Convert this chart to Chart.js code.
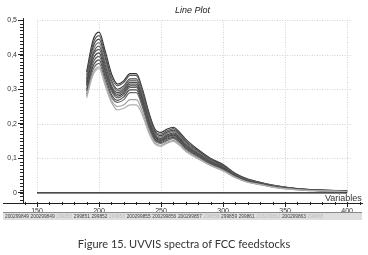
<!DOCTYPE html>
<html>
<head>
<meta charset="utf-8">
<script src="https://cdn.jsdelivr.net/npm/chart.js@4.4.1/dist/chart.umd.min.js"></script>
<style>
  body { margin:0; background:#fff; }
  #wrap { position:relative; width:368px; height:255px; overflow:hidden; font-family:'Liberation Sans', Arial, sans-serif; }
  #plot { position:absolute; left:0; top:0; width:368px; height:222px; }
  #title { position:absolute; left:175px; top:5px; font-size:9px; font-style:italic; color:#222; }
  #vars { position:absolute; left:325px; top:193px; font-size:9px; color:#333; }
  #strip { position:absolute; left:3px; top:212px; width:357px; height:7px; background:#dedede; border-top:1px solid #8a8a8a;
           display:flex; gap:1.6px; font-size:4.8px; line-height:7px; white-space:nowrap; overflow:hidden; padding-left:2px; }
  #strip span { color:#444; }
  #strip span.l { color:#bbb; }
  #caption { position:absolute; left:0; width:368px; top:237px; text-align:center; font-family:Lato, sans-serif; font-size:11px; color:#333; }
</style>
</head>
<body>
<div id="wrap">
  <div id="plot"><canvas id="c"></canvas></div>
  <div id="title">Line Plot</div>
  <div id="vars">Variables</div>
  <div id="strip"></div>
  <div id="caption">Figure 15. UVVIS spectra of FCC feedstocks</div>
</div>
<script>
// wavelengths (nm)
const wl = [190,195,200,205,210,215,220,225,230,235,240,245,250,255,260,265,270,280,290,300,310,320,330,340,350,360,380,400];

// absorbance spectra, one array per sample
const s1  = [0.35,0.44,0.465,0.41,0.345,0.315,0.325,0.345,0.345,0.30,0.235,0.185,0.175,0.185,0.19,0.175,0.155,0.125,0.10,0.082,0.056,0.04,0.031,0.023,0.017,0.013,0.008,0.006];
const s2  = [0.34,0.43,0.455,0.40,0.335,0.31,0.32,0.34,0.34,0.295,0.23,0.18,0.17,0.18,0.186,0.17,0.15,0.122,0.098,0.08,0.055,0.039,0.030,0.022,0.016,0.012,0.008,0.006];
const w1  = [0.335,0.425,0.45,0.395,0.33,0.305,0.315,0.335,0.335,0.29,0.227,0.178,0.168,0.178,0.184,0.168,0.148,0.121,0.097,0.079,0.054,0.038,0.029,0.022,0.016,0.012,0.008,0.005];
const s3  = [0.33,0.42,0.445,0.39,0.325,0.30,0.31,0.33,0.33,0.285,0.225,0.176,0.166,0.176,0.182,0.167,0.147,0.12,0.096,0.078,0.054,0.038,0.029,0.021,0.016,0.012,0.008,0.005];
const s4  = [0.325,0.41,0.435,0.38,0.32,0.295,0.305,0.325,0.325,0.28,0.22,0.172,0.162,0.172,0.178,0.164,0.144,0.117,0.094,0.076,0.052,0.037,0.028,0.021,0.015,0.011,0.007,0.005];
const s5  = [0.32,0.40,0.425,0.37,0.31,0.29,0.30,0.32,0.32,0.275,0.215,0.168,0.158,0.168,0.174,0.16,0.14,0.114,0.092,0.075,0.051,0.036,0.028,0.02,0.015,0.011,0.007,0.005];
const w2  = [0.318,0.397,0.42,0.365,0.307,0.287,0.297,0.317,0.317,0.272,0.212,0.166,0.156,0.166,0.172,0.158,0.138,0.113,0.091,0.074,0.05,0.036,0.027,0.02,0.015,0.011,0.007,0.005];
const s6  = [0.315,0.395,0.415,0.36,0.305,0.285,0.295,0.315,0.315,0.27,0.21,0.165,0.155,0.165,0.17,0.157,0.137,0.112,0.09,0.073,0.05,0.035,0.027,0.02,0.015,0.011,0.007,0.005];
const s7  = [0.31,0.385,0.405,0.35,0.30,0.28,0.29,0.31,0.31,0.265,0.205,0.162,0.152,0.162,0.167,0.154,0.134,0.11,0.088,0.072,0.049,0.035,0.027,0.019,0.014,0.011,0.007,0.005];
const s8  = [0.30,0.375,0.395,0.345,0.295,0.275,0.285,0.305,0.305,0.26,0.20,0.158,0.149,0.159,0.164,0.151,0.131,0.108,0.087,0.07,0.048,0.034,0.026,0.019,0.014,0.01,0.007,0.005];
const s9  = [0.295,0.365,0.385,0.335,0.285,0.268,0.278,0.298,0.298,0.255,0.196,0.155,0.146,0.156,0.161,0.148,0.129,0.106,0.085,0.069,0.047,0.033,0.025,0.018,0.014,0.01,0.006,0.005];
const s10 = [0.285,0.355,0.375,0.325,0.278,0.262,0.27,0.29,0.29,0.248,0.19,0.151,0.143,0.152,0.157,0.145,0.126,0.104,0.083,0.067,0.046,0.032,0.025,0.018,0.013,0.01,0.006,0.004];
const s11 = [0.28,0.345,0.365,0.315,0.268,0.25,0.255,0.27,0.27,0.235,0.18,0.145,0.138,0.147,0.152,0.14,0.122,0.1,0.08,0.065,0.045,0.031,0.024,0.017,0.013,0.009,0.006,0.004];
const s12 = [0.275,0.34,0.36,0.31,0.262,0.24,0.245,0.255,0.255,0.225,0.175,0.142,0.135,0.144,0.149,0.137,0.12,0.098,0.079,0.064,0.044,0.031,0.024,0.017,0.012,0.009,0.006,0.004];

const series = [s12, s11, s10, s9, s8, s7, s6, s5, s4, s3, s2, s1, w2, w1];
const lineColors = ['#b0b0b0','#a0a0a0','#6a6a6a','#4a4a4a','#606060','#444','#5a5a5a','#505050','#777','#4a4a4a','#5a5a5a','#333','#f0f0f0','#ffffff'];

// zero reference line
const baseX = [150, 400];
const baseY = [0, 0];

// axis ticks and grid
const xTicks = [150, 200, 250, 300, 350, 400];
const yTicks = [0, 0.1, 0.2, 0.3, 0.4, 0.5];

// sample id strip under the axis
const stripIds = ['200299849','200299849','299850','299851','299852','299853','200299855','200299856','200299857','299858','299859','299861','200299862','200299863','299865'];
const stripLight = [0,0,1,0,0,1,0,0,0,1,0,0,1,0,1];

const strip = document.getElementById('strip');
stripIds.forEach((t, i) => {
  const s = document.createElement('span');
  s.textContent = t;
  if (stripLight[i]) s.className = 'l';
  strip.appendChild(s);
});

const decor = {
  id: 'decor',
  beforeDatasetsDraw(chart) {
    const {ctx, scales: {x, y}} = chart;
    ctx.save();
    ctx.strokeStyle = '#d2d2d2';
    ctx.lineWidth = 1;
    ctx.setLineDash([1, 1.5]);
    yTicks.forEach(v => {
      if (v === 0) return;
      const py = Math.round(y.getPixelForValue(v)) + 0.5;
      ctx.beginPath();
      ctx.moveTo(x.getPixelForValue(150), py);
      ctx.lineTo(x.getPixelForValue(403), py);
      ctx.stroke();
    });
    xTicks.forEach(v => {
      const px = Math.round(x.getPixelForValue(v)) + 0.5;
      ctx.beginPath();
      ctx.moveTo(px, y.getPixelForValue(0));
      ctx.lineTo(px, y.getPixelForValue(0.5));
      ctx.stroke();
    });
    ctx.restore();
  },
  afterDraw(chart) {
    const {ctx, chartArea, scales: {x, y}} = chart;
    ctx.save();
    ctx.strokeStyle = '#222';
    ctx.lineWidth = 1;
    // x axis runs a little to the left of the y axis
    const by = Math.round(chartArea.bottom) + 0.5;
    ctx.beginPath();
    ctx.moveTo(3, by);
    ctx.lineTo(chartArea.left, by);
    ctx.stroke();
    // minor ticks on y
    for (let k = -2; k <= 50; k++) {
      const py = Math.round(y.getPixelForValue(k / 100)) + 0.5;
      ctx.beginPath();
      ctx.moveTo(chartArea.left - 3, py);
      ctx.lineTo(chartArea.left, py);
      ctx.stroke();
    }
    // minor ticks on x
    for (let k = 14; k <= 41; k++) {
      const px = Math.round(x.getPixelForValue(k * 10)) + 0.5;
      ctx.beginPath();
      ctx.moveTo(px, by - 1.5);
      ctx.lineTo(px, by + 1.5);
      ctx.stroke();
    }
    ctx.restore();
  }
};

const datasets = series.map((s, i) => ({
  data: s.map((v, j) => ({x: wl[j], y: v})),
  borderColor: lineColors[i],
  borderWidth: 1.2,
  pointRadius: 0,
  cubicInterpolationMode: 'monotone',
  fill: false
}));
datasets.unshift({
  data: baseX.map((v, j) => ({x: v, y: baseY[j]})),
  borderColor: '#111',
  borderWidth: 1.3,
  pointRadius: 0
});

new Chart(document.getElementById('c'), {
  type: 'line',
  data: {datasets},
  options: {
    responsive: true,
    maintainAspectRatio: false,
    animation: false,
    layout: {padding: {top: 18, right: 6, left: 0, bottom: 0}},
    plugins: {legend: {display: false}, tooltip: {enabled: false}},
    scales: {
      x: {
        type: 'linear',
        min: 138.7,
        max: 412,
        afterBuildTicks: s => { s.ticks = xTicks.map(v => ({value: v})); },
        afterFit: s => { s.height = 19; },
        ticks: {color: '#333', font: {size: 7, family: 'Liberation Sans'}, padding: 0, maxRotation: 0},
        grid: {drawOnChartArea: false, tickLength: 4, tickColor: '#222'},
        border: {color: '#222', width: 1}
      },
      y: {
        min: -0.029,
        max: 0.506,
        afterBuildTicks: s => { s.ticks = yTicks.map(v => ({value: v})); },
        afterFit: s => { s.width = 23; },
        ticks: {
          color: '#333', font: {size: 7, family: 'Liberation Sans'}, padding: 1,
          callback: v => v === 0 ? '0' : v.toFixed(1).replace('.', ',')
        },
        grid: {drawOnChartArea: false, tickLength: 5, tickColor: '#222'},
        border: {color: '#222', width: 1}
      }
    }
  },
  plugins: [decor]
});
</script>
</body>
</html>
